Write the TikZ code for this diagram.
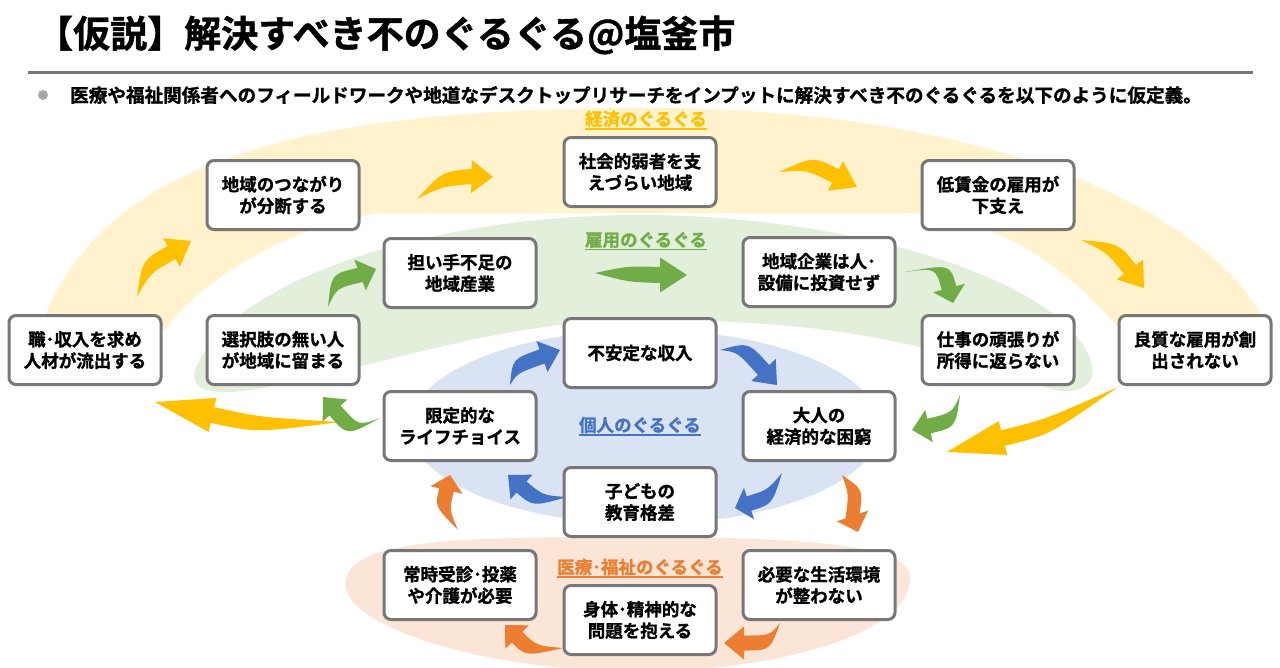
\documentclass[tikz,border=0pt]{standalone}
\usepackage{fontspec}
\setmainfont{Noto Sans CJK JP}[BoldFont=* Bold, BoldFeatures={FakeBold=1.2}]
\definecolor{ylw}{HTML}{FFC000}
\definecolor{grn}{HTML}{70AD47}
\definecolor{blu}{HTML}{4472C4}
\definecolor{org}{HTML}{ED7D31}
\definecolor{ylwbg}{HTML}{FFF2CC}
\definecolor{grnbg}{HTML}{E2EFDA}
\definecolor{blubg}{HTML}{DAE3F3}
\definecolor{orgbg}{HTML}{FBE5D6}
\definecolor{boxline}{HTML}{777777}
\tikzset{
  box/.style={draw=boxline, line width=3pt, rounded corners=7pt, fill=white,
    minimum width=152pt, minimum height=69pt, align=center, inner sep=2pt,
    font=\fontsize{17.5}{21.5}\selectfont\bfseries},
  looplabel/.style={font=\fontsize{17.5}{20}\selectfont\bfseries, inner sep=0pt, text=#1},
}
\def\bhw{7.5}
\def\hhw{16.5}
% curved block arrow: color:tail x,y;control x,y;head base x,y;tip x,y;
\def\barrow#1:#2,#3;#4,#5;#6,#7;#8,#9;{%
  \pgfmathsetmacro\ddx{#8-#6}\pgfmathsetmacro\ddy{#9-#7}%
  \pgfmathsetmacro\dlen{veclen(\ddx,\ddy)}%
  \pgfmathsetmacro\nnx{-\ddy/\dlen}\pgfmathsetmacro\nny{\ddx/\dlen}%
  \fill[#1] (#2,#3) .. controls ({#4+\bhw*\nnx},{#5+\bhw*\nny}) .. ({#6+\bhw*\nnx},{#7+\bhw*\nny})
    -- ({#6+\hhw*\nnx},{#7+\hhw*\nny}) -- (#8,#9) -- ({#6-\hhw*\nnx},{#7-\hhw*\nny})
    -- ({#6-\bhw*\nnx},{#7-\bhw*\nny}) .. controls ({#4-\bhw*\nnx},{#5-\bhw*\nny}) .. (#2,#3) -- cycle;
}
\begin{document}
\begin{tikzpicture}[x=1pt,y=-1pt]
\useasboundingbox (0,0) rectangle (1280,667);
\fill[white] (0,0) rectangle (1280,667);

% title
\node[anchor=west, inner sep=0pt, font=\fontsize{37}{42}\selectfont\bfseries] (title) at (36,35) {【仮説】解決すべき不のぐるぐる@塩釜市};
\draw[line width=3pt, boxline] (28,72) -- (1253,72);
\fill[black!35] (43,95) circle (5pt);
\node[anchor=west, inner sep=0pt, font=\fontsize{18.6}{20}\selectfont\bfseries] (lead) at (70,95) {医療や福祉関係者へのフィールドワークや地道なデスクトップリサーチをインプットに解決すべき不のぐるぐるを以下のように仮定義。};

% background bands
\fill[ylwbg] (40,330) .. controls (100,150) and (330,108) .. (650,108)
  .. controls (950,108) and (1200,190) .. (1270,330) -- (1125,335)
  .. controls (1070,270) and (1000,215) .. (900,213) -- (380,213)
  .. controls (290,225) and (200,280) .. (165,330) -- cycle;
\fill[grnbg] (195,370) .. controls (230,280) and (430,215) .. (640,215)
  .. controls (850,215) and (1070,280) .. (1092,365)
  .. controls (1098,395) and (1060,395) .. (1040,385)
  .. controls (900,330) and (780,320) .. (640,320)
  .. controls (480,320) and (330,385) .. (230,392)
  .. controls (200,393) and (192,385) .. (195,370) -- cycle;
\fill[blubg] (645,427) ellipse [x radius=235, y radius=97];
\fill[orgbg] (345,585) .. controls (345,540) and (450,537) .. (630,537)
  .. controls (810,537) and (915,545) .. (910,580)
  .. controls (905,640) and (760,672) .. (630,672)
  .. controls (470,668) and (348,625) .. (345,585) -- cycle;

% arrows
\barrow ylw:137,297;146,267;171.5,252.5;191,241;
\barrow ylw:417,199;442,179;471.5,176.5;493,177;
\barrow ylw:779,172;810,163;835.5,176;857,187;
\barrow ylw:1081,240;1113,248;1130,269.5;1144,288;
\def\bhw{8}\def\hhw{17.5}
\barrow ylw:1118,387;1048,427;1003,438;947,452;
\barrow ylw:340,422;258,425;212.5,415;155,402;
\barrow grn:595,273;628,274;660,275;687,275;
\def\bhw{7.5}\def\hhw{16.5}
\barrow grn:328,307;334,281;360,275;376,269;
\barrow grn:905,272;943,266;949,288;953,303;
\barrow grn:960,395;954,420;929,426;912,430;
\barrow grn:380,418;353,431;335,410.5;323,397;
\barrow blu:510,385;515,366;542,356.5;560,350;
\barrow blu:720,350;743,347;763.5,370;777,385;
\barrow blu:782,473;770,497;749,503.5;735,508;
\barrow blu:567,497;538,501;521.5,487;508,475;
\barrow org:842,475;856,492;852.5,516;858,532;
\barrow org:780,623;770,643;744,643;724,643;
\barrow org:563,648;531,651;517,637;505,625;
\barrow org:458,530;442,508;446.5,490;450,475;

% boxes
\node[box] (shoku) at (85,350) {職･収入を求め\\人材が流出する};
\node[box] (tsunagari) at (283,195) {地域のつながり\\が分断する};
\node[box] (sentaku) at (283,350) {選択肢の無い人\\が地域に留まる};
\node[box] (ninaite) at (460,273) {担い手不足の\\地域産業};
\node[box] (shakai) at (640,172) {社会的弱者を支\\えづらい地域};
\node[box] (kigyo) at (819,272) {地域企業は人･\\設備に投資せず};
\node[box] (teichingin) at (998,195) {低賃金の雇用が\\下支え};
\node[box] (shigoto) at (998,350) {仕事の頑張りが\\所得に返らない};
\node[box] (ryoshitsu) at (1195,350) {良質な雇用が創\\出されない};
\node[box] (fuantei) at (640,353) {不安定な収入};
\node[box] (gentei) at (460,426) {限定的な\\ライフチョイス};
\node[box] (otona) at (819,426) {大人の\\経済的な困窮};
\node[box] (kodomo) at (640,502) {子どもの\\教育格差};
\node[box] (joji) at (460,585) {常時受診･投薬\\や介護が必要};
\node[box] (hitsuyo) at (819,585) {必要な生活環境\\が整わない};
\node[box] (shintai) at (640,620) {身体･精神的な\\問題を抱える};

% loop labels
\node[looplabel=ylw] (lkeizai) at (646,119) {経済のぐるぐる};
\draw[ylw, line width=1.2pt] ([yshift=-1.5pt]lkeizai.south west) -- ([yshift=-1.5pt]lkeizai.south east);
\node[looplabel=grn] (lkoyo) at (646,240) {雇用のぐるぐる};
\draw[grn, line width=1.2pt] ([yshift=-1.5pt]lkoyo.south west) -- ([yshift=-1.5pt]lkoyo.south east);
\node[looplabel=blu] (lkojin) at (640,425) {個人のぐるぐる};
\draw[blu, line width=1.2pt] ([yshift=-1.5pt]lkojin.south west) -- ([yshift=-1.5pt]lkojin.south east);
\node[looplabel=org] (liryo) at (640,567) {医療･福祉のぐるぐる};
\draw[org, line width=1.2pt] ([yshift=-1.5pt]liryo.south west) -- ([yshift=-1.5pt]liryo.south east);
\end{tikzpicture}
\end{document}
